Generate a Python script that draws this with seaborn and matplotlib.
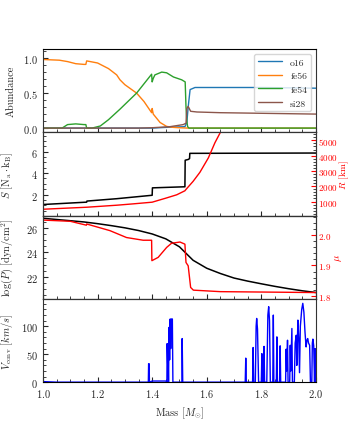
import matplotlib
matplotlib.use("Agg")
import matplotlib.pyplot as plt
import seaborn as sns
import pandas as pd

# abundance profiles
o16_m = [1.00, 1.40, 1.45, 1.52, 1.527, 1.532, 1.539, 1.557, 1.60, 1.80, 2.00]
o16 = [0.0, 0.0, 0.01, 0.02, 0.08, 0.30, 0.55, 0.58, 0.58, 0.58, 0.57]
fe56_m = [1.00, 1.06, 1.09, 1.12, 1.15, 1.157, 1.16, 1.20, 1.24, 1.27, 1.282, 1.30, 1.343, 1.37,
          1.398, 1.400, 1.404, 1.429, 1.453, 1.478, 1.50, 1.53, 2.00]
fe56 = [0.98, 0.97, 0.95, 0.92, 0.91, 0.91, 0.96, 0.93, 0.85, 0.76, 0.69, 0.62, 0.50, 0.38,
        0.22, 0.28, 0.20, 0.08, 0.024, 0.01, 0.005, 0.0, 0.0]
fe54_m = [1.00, 1.07, 1.09, 1.12, 1.15, 1.157, 1.16, 1.18, 1.21, 1.24, 1.282, 1.343, 1.398, 1.400,
          1.404, 1.41, 1.435, 1.453, 1.478, 1.508, 1.521, 1.524, 1.527, 1.53, 1.535, 2.00]
fe54 = [0.0, 0.0, 0.05, 0.06, 0.05, 0.05, 0.0, 0.0, 0.03, 0.12, 0.27, 0.50, 0.77, 0.66,
        0.71, 0.76, 0.80, 0.79, 0.73, 0.69, 0.66, 0.30, 0.10, 0.02, 0.0, 0.0]
si28_m = [1.00, 1.35, 1.40, 1.465, 1.514, 1.524, 1.527, 1.532, 1.541, 1.564, 1.649, 2.00]
si28 = [0.0, 0.0, 0.005, 0.02, 0.05, 0.07, 0.28, 0.31, 0.24, 0.23, 0.22, 0.20]

# entropy and radius
s_m = [1.00, 1.16, 1.161, 1.27, 1.40, 1.401, 1.52, 1.521, 1.532, 1.537, 1.538, 2.00]
s_val = [1.08, 1.30, 1.40, 1.62, 1.94, 2.63, 2.73, 5.20, 5.27, 5.35, 5.84, 5.87]
r_m = [1.00, 1.16, 1.27, 1.33, 1.40, 1.45, 1.49, 1.52, 1.525, 1.55, 1.575, 1.606, 1.63, 1.65, 1.68]
r_val = [495, 626, 758, 846, 956, 1220, 1440, 1703, 1813, 2319, 2912, 3857, 4846, 5527, 6700]

# pressure and mean molecular weight
p_m = [1.00, 1.05, 1.10, 1.15, 1.20, 1.25, 1.30, 1.35, 1.40, 1.45, 1.50, 1.55, 1.60, 1.65,
       1.70, 1.75, 1.80, 1.85, 1.90, 1.95, 2.00]
logp = [26.78, 26.68, 26.58, 26.48, 26.34, 26.18, 26.00, 25.78, 25.50, 25.10, 24.45, 23.35, 22.70,
        22.27, 21.90, 21.65, 21.43, 21.22, 21.03, 20.86, 20.72]
mu_m = [1.00, 1.10, 1.159, 1.16, 1.245, 1.306, 1.367, 1.398, 1.399, 1.422, 1.453, 1.471, 1.502,
        1.52, 1.524, 1.532, 1.541, 1.551, 1.65, 2.00]
mu = [2.051, 2.047, 2.034, 2.038, 2.016, 1.993, 1.984, 1.984, 1.916, 1.927, 1.960, 1.974, 1.978,
      1.971, 1.910, 1.899, 1.827, 1.818, 1.813, 1.810]

# convective velocity
v_m = [1.000, 1.050, 1.386, 1.387, 1.389, 1.390, 1.400, 1.450, 1.454, 1.455, 1.457, 1.458, 1.460,
       1.462, 1.464, 1.466, 1.468, 1.470, 1.474, 1.476, 1.509, 1.510, 1.512,
       1.741, 1.743, 1.745, 1.768, 1.770, 1.772, 1.778, 1.781, 1.783, 1.786, 1.790,
       1.800, 1.802, 1.804, 1.808, 1.810, 1.812, 1.820, 1.824, 1.827, 1.830, 1.833,
       1.842, 1.844, 1.846, 1.855, 1.857, 1.859, 1.867, 1.869, 1.871,
       1.889, 1.891, 1.893, 1.896, 1.898, 1.904, 1.906, 1.908, 1.912, 1.914,
       1.921, 1.924, 1.928, 1.930, 1.934, 1.937, 1.940, 1.943, 1.948, 1.952, 1.956, 1.960,
       1.964, 1.967, 1.970, 1.973, 1.977, 1.980, 1.985, 1.987, 1.989, 1.992, 1.995, 1.997, 2.000]
v_conv = [1, 0, 0, 33, 33, 0, 2, 2, 0, 69, 30, 60, 0,
          98, 40, 113, 60, 113, 113, 0, 0, 78, 0,
          0, 43, 0, 0, 62, 0, 0, 100, 114, 95, 0,
          0, 51, 0, 0, 64, 0, 0, 120, 135, 110, 0,
          0, 120, 0, 0, 81, 0, 0, 65, 0,
          0, 59, 20, 75, 0, 0, 66, 20, 96, 0,
          0, 70, 84, 30, 111, 80, 17, 100, 130, 141, 125, 90,
          63, 75, 78, 70, 66, 0, 0, 70, 77, 65, 0, 60, 0]

sns.set_style("ticks")
plt.rcParams.update({
    "font.family": "serif",
    "font.serif": ["cmr10", "DejaVu Serif"],
    "mathtext.fontset": "cm",
    "axes.formatter.use_mathtext": True,
    "font.size": 7.5,
    "axes.labelsize": 7.5,
    "xtick.labelsize": 7.5,
    "ytick.labelsize": 7.5,
    "xtick.direction": "in",
    "ytick.direction": "in",
    "xtick.minor.visible": True,
    "ytick.minor.visible": True,
    "axes.edgecolor": "#333333",
    "axes.linewidth": 0.8,
})

fig, axes = plt.subplots(4, 1, sharex=True, figsize=(3.51, 4.31), dpi=100)
fig.subplots_adjust(left=0.1225, right=0.9, top=0.884, bottom=0.111, hspace=0)
ax1, ax2, ax3, ax4 = axes

# panel 1
for m, a, name, c in [(o16_m, o16, "o16", "tab:blue"), (fe56_m, fe56, "fe56", "tab:orange"),
                      (fe54_m, fe54, "fe54", "tab:green"), (si28_m, si28, "si28", "tab:brown")]:
    sns.lineplot(x=m, y=a, ax=ax1, color=c, lw=1, label=name, estimator=None, sort=False)
ax1.set_ylim(-0.06, 1.13)
ax1.set_yticks([0.0, 0.5, 1.0])
ax1.set_ylabel("Abundance")
ax1.legend(loc="upper right", fontsize=7, handlelength=2.5, framealpha=0.8)

# panel 2
sns.lineplot(x=s_m, y=s_val, ax=ax2, color="black", lw=1.1, estimator=None, sort=False)
ax2.set_ylim(0.05, 7.8)
ax2.set_yticks([2, 4, 6])
ax2.set_ylabel(r"$S$ [N$_{\rm a}\cdot$k$_{\rm B}$]")
ax2r = ax2.twinx()
sns.lineplot(x=r_m, y=r_val, ax=ax2r, color="red", lw=1, estimator=None, sort=False)
ax2r.set_ylim(80, 5530)
ax2r.set_yticks([1000, 2000, 3000, 4000, 5000])
ax2r.set_ylabel(r"$R$ [km]", color="red", labelpad=0, fontsize=7)
ax2r.tick_params(axis="y", colors="red", labelsize=6.5, pad=1.5)

# panel 3
sns.lineplot(x=p_m, y=logp, ax=ax3, color="black", lw=1.1, estimator=None, sort=False)
ax3.set_ylim(20.2, 27.0)
ax3.set_yticks([22, 24, 26])
ax3.set_ylabel(r"$\log(P)$ [dyn/cm$^2$]")
ax3r = ax3.twinx()
sns.lineplot(x=mu_m, y=mu, ax=ax3r, color="red", lw=1, estimator=None, sort=False)
ax3r.set_ylim(1.789, 2.066)
ax3r.set_yticks([1.8, 1.9, 2.0])
ax3r.set_ylabel(r"$\mu$", color="red", labelpad=1)
ax3r.tick_params(axis="y", colors="red", labelsize=6.5, pad=1.5)

# panel 4
sns.lineplot(x=v_m, y=v_conv, ax=ax4, color="blue", lw=1, estimator=None, sort=False)
ax4.set_ylim(0, 149)
ax4.set_yticks([0, 50, 100])
ax4.set_ylabel(r"$V_{\rm conv}$ $[km/s]$")
ax4.set_xlim(1.0, 2.0)
ax4.set_xticks([1.0, 1.2, 1.4, 1.6, 1.8, 2.0])
ax4.set_xlabel(r"Mass [$M_{\odot}$]")

for ax in axes:
    ax.spines["top"].set_color("black")
    ax.spines["bottom"].set_color("black")
fig.align_ylabels(axes)

fig.savefig("out.png", dpi=100)
